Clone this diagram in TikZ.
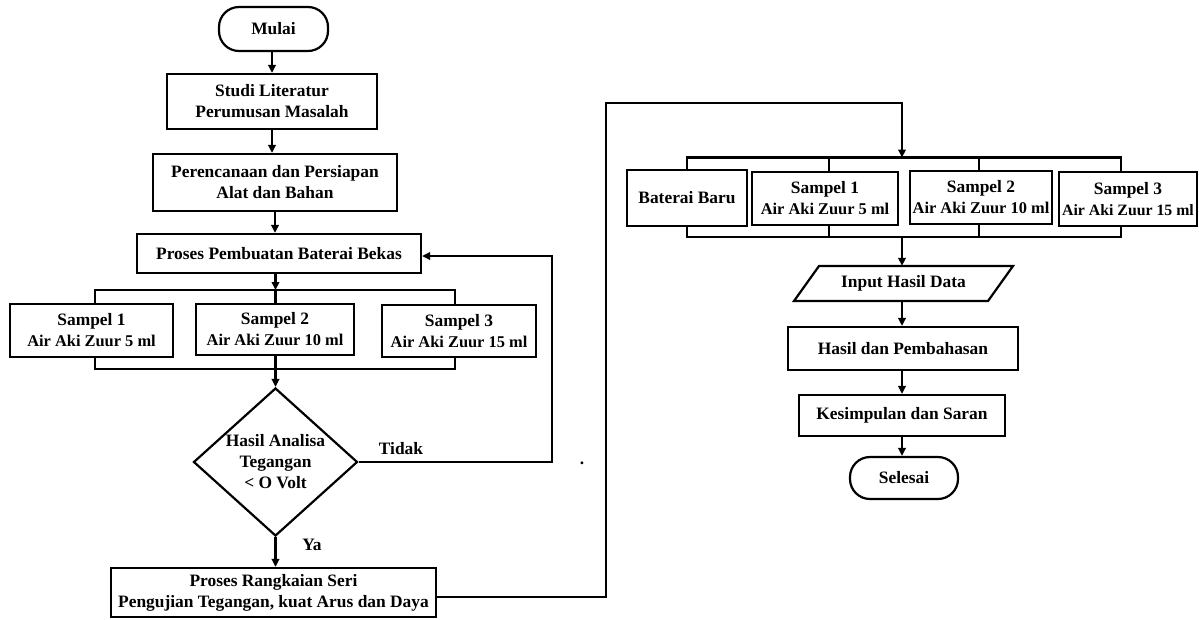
\documentclass[tikz,border=0pt]{standalone}
\usepackage{fontspec}
\setmainfont{Liberation Serif}
\usetikzlibrary{arrows.meta,shapes.geometric}
\tikzset{
  base/.style={font=\fontsize{17.4}{21}\selectfont\bfseries, align=center, inner sep=0pt},
  box/.style={base, draw, line width=2.2pt, rectangle},
  term/.style={box, rounded corners=20pt},
  line/.style={line width=2.2pt},
  arr/.style={line, -{Triangle[length=8pt,width=7.5pt]}},
}
\newcommand{\smalltext}[1]{{\fontsize{16.4}{20}\selectfont #1}}
\begin{document}
\begin{tikzpicture}[x=1pt,y=-1pt]
\useasboundingbox (0,0) rectangle (1199,619);
\fill[white] (0,0) rectangle (1199,619);
% ---------- left column ----------
\node[term, minimum width=109pt, minimum height=44pt] (mulai) at (273.5,29) {Mulai};
\node[box, minimum width=210pt, minimum height=55pt] (studi) at (272,101.5) {Studi Literatur\\Perumusan Masalah};
\node[box, minimum width=244pt, minimum height=57pt] (peren) at (275,182.5) {Perencanaan dan Persiapan\\Alat dan Bahan};
\node[box, minimum width=284pt, minimum height=39pt] (proses) at (279,253.5) {Proses Pembuatan Baterai Bekas};
\node[box, minimum width=163pt, minimum height=53pt] (s1) at (91.5,330.5) {Sampel 1\\\smalltext{Air Aki Zuur 5 ml}};
\node[box, minimum width=158pt, minimum height=51pt] (s2) at (275,329.5) {Sampel 2\\\smalltext{Air Aki Zuur 10 ml}};
\node[box, minimum width=154pt, minimum height=52pt] (s3) at (459,331) {Sampel 3\\\smalltext{Air Aki Zuur 15 ml}};
\node[base, draw, line width=2.2pt, diamond, aspect=1.108, minimum width=164pt, minimum height=148pt] (dec) at (275.5,462) {Hasil Analisa\\Tegangan\\< O Volt};
\node[box, minimum width=325pt, minimum height=49pt] (rangk) at (273.5,592.5) {Proses Rangkaian Seri\\Pengujian Tegangan, kuat Arus dan Daya};
\node[base] (tidak) at (401,449) {Tidak};
\node[base] (ya) at (312,545) {Ya};
\node[base] (dot1) at (582,463) {.};

\coordinate (bL) at (95,290);
\coordinate (bM) at (275.5,290);
\coordinate (bR) at (455,290);
\coordinate (mL) at (95,369);
\coordinate (mM) at (275.5,369);
\coordinate (mR) at (455,369);
\coordinate (fb) at (552,256);

\draw[arr] (mulai.south -| studi.north) -- (studi.north);
\draw[arr] (studi.south) -- (studi.south |- peren.north);
\draw[arr] (peren.south) -- (peren.south |- proses.north);
\draw[arr] (proses.south -| bM) -- (bM);
\draw[line] (bL |- s1.north) -- (bL) -- (bR) -- (bR |- s3.north);
\draw[line] (bM) -- (bM |- s2.north);
\draw[line] (mL |- s1.south) -- (mL) -- (mR) -- (mR |- s3.south);
\draw[line] (mM |- s2.south) -- (mM);
\draw[arr] (mM) -- (dec.north);
\draw[arr] (dec.east) -- (dec.east -| fb) -- (fb) -- (fb -| proses.east);
\draw[arr] (dec.south) -- (dec.south |- rangk.north);

% ---------- right column ----------
\node[box, minimum width=120pt, minimum height=56pt] (bb) at (687,198) {Baterai Baru};
\node[box, minimum width=146pt, minimum height=53pt] (r1) at (825,198.5) {Sampel 1\\\smalltext{Air Aki Zuur 5 ml}};
\node[box, minimum width=142pt, minimum height=53pt] (r2) at (981,197.5) {Sampel 2\\\smalltext{Air Aki Zuur 10 ml}};
\node[box, minimum width=138pt, minimum height=54pt] (r3) at (1128,199) {Sampel 3\\{\fontsize{15.8}{20}\selectfont Air Aki Zuur 15 ml}};
\node[base, minimum width=150pt, minimum height=35pt] (input) at (903.5,283.5) {Input Hasil Data};
\draw[line, shift={(input.center)}] (-84.5,-17.5) -- (109.5,-17.5) -- (84.5,17.5) -- (-109.5,17.5) -- cycle;
\node[box, minimum width=230pt, minimum height=43pt] (hasil) at (903,348.5) {Hasil dan Pembahasan};
\node[box, minimum width=206pt, minimum height=41pt] (kesim) at (902,415.5) {Kesimpulan dan Saran};
\node[term, minimum width=108pt, minimum height=42pt] (selesai) at (904,478) {Selesai};

\coordinate (lp1) at (606,597);
\coordinate (lp2) at (606,103);
\coordinate (lp3) at (902,103);
\coordinate (rbL) at (687,157.5);
\coordinate (rb1) at (829,157.5);
\coordinate (rbM) at (902,157.5);
\coordinate (rb2) at (979,157.5);
\coordinate (rbR) at (1121,157.5);
\coordinate (rmL) at (687,237);
\coordinate (rm1) at (829,237);
\coordinate (rmM) at (902,237);
\coordinate (rm2) at (979,237);
\coordinate (rmR) at (1121,237);

\draw[arr] (rangk.east |- lp1) -- (lp1) -- (lp2) -- (lp3) -- (rbM);
\draw[line] (rbL |- bb.north) -- (rbL) -- (rbR) -- (rbR |- r3.north);
\draw[line] (rb1) -- (rb1 |- r1.north);
\draw[line] (rb2) -- (rb2 |- r2.north);
\draw[line] (rmL |- bb.south) -- (rmL) -- (rmR) -- (rmR |- r3.south);
\draw[line] (rm1 |- r1.south) -- (rm1);
\draw[line] (rm2 |- r2.south) -- (rm2);
\draw[arr] (rmM) -- (rmM |- input.north);
\draw[arr] (rmM |- input.south) -- (rmM |- hasil.north);
\draw[arr] (rmM |- hasil.south) -- (rmM |- kesim.north);
\draw[arr] (rmM |- kesim.south) -- (rmM |- selesai.north);
\end{tikzpicture}
\end{document}
